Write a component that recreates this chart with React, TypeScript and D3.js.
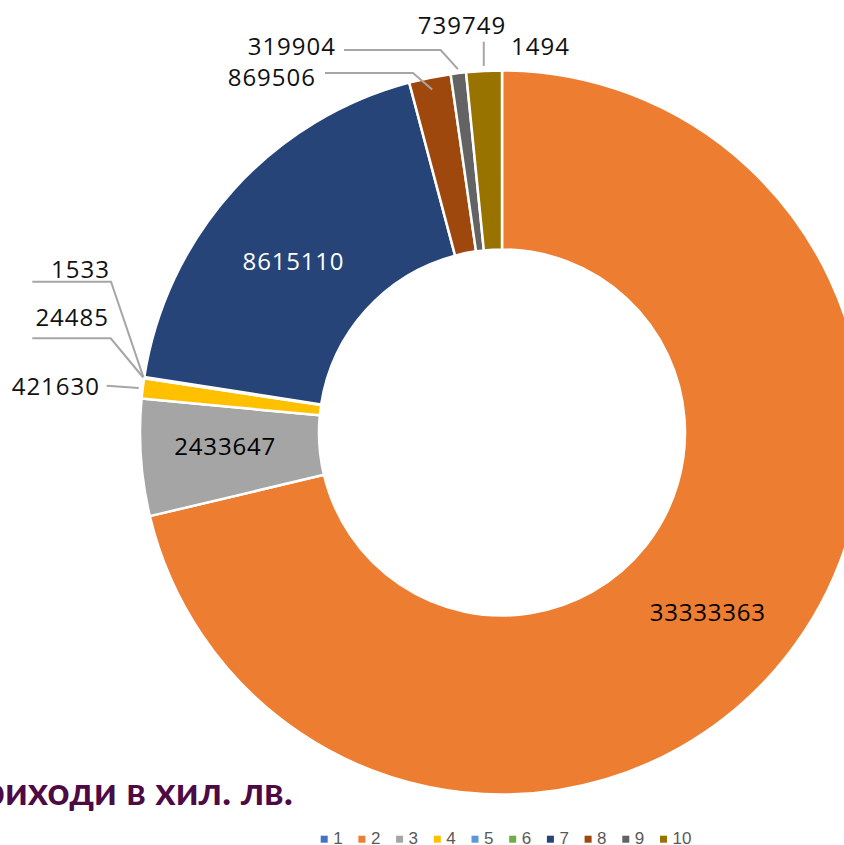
import React from "react";
import * as d3 from "d3";

const categories = ["1", "2", "3", "4", "5", "6", "7", "8", "9", "10"];
const values = [1494, 33333363, 2433647, 421630, 24485, 1533, 8615110, 869506, 319904, 739749];
const colors = ["#4472C4", "#ED7D31", "#A5A5A5", "#FFC000", "#5B9BD5", "#70AD47", "#264478", "#9E480E", "#636363", "#997300"];
const titleText = "Приходи в хил. лв.";

// inside labels: index -> text color
const insideLabels = [
  { i: 1, color: "#000000", dx: -8, dy: 10 },
  { i: 2, color: "#000000", dx: -5, dy: -6 },
  { i: 6, color: "#ffffff", dx: -6, dy: 10 },
];

// outside labels layout
type OutLabel = { i: number; tx: number; ty: number; anchor: string; line?: number[][]; tipR?: number; vertical?: number };
const outsideLabels: OutLabel[] = [
  { i: 0, tx: 511, ty: 45, anchor: "start" },
  { i: 9, tx: 462, ty: 24, anchor: "middle", vertical: 41.7, tipR: 367 },
  { i: 8, tx: 336, ty: 45, anchor: "end", line: [[344, 50], [440.7, 50]], tipR: 366 },
  { i: 7, tx: 316, ty: 76, anchor: "end", line: [[325, 73], [413, 73]], tipR: 350 },
  { i: 5, tx: 110, ty: 268, anchor: "end", line: [[32.3, 281.7], [111, 281.7]], tipR: 363 },
  { i: 4, tx: 109, ty: 316, anchor: "end", line: [[32.3, 338.3], [110.7, 338.3]], tipR: 363 },
  { i: 3, tx: 100, ty: 385, anchor: "end", line: [[106.7, 385.7]], tipR: 366 },
];

export default function App() {
  const W = 844, H = 845;
  const cx = 502, cy = 432.5;
  const outerR = 362, innerR = 183;
  const pie = d3.pie<number>().sort(null).value((d) => d).startAngle(0).endAngle(2 * Math.PI);
  const arcs = pie(values);
  const arc = d3.arc<d3.PieArcDatum<number>>().innerRadius(innerR).outerRadius(outerR);
  const pt = (a: d3.PieArcDatum<number>, r: number) => {
    const m = (a.startAngle + a.endAngle) / 2;
    return [cx + r * Math.sin(m), cy - r * Math.cos(m)];
  };
  const labelFont = "'Open Sans', sans-serif";
  const legendX = d3.scaleLinear().domain([0, 9]).range([320.7, 660]);

  return (
    <svg width={W} height={H} style={{ position: "absolute", left: 0, top: 0, background: "#fff" }}>
      <g transform={`translate(${cx},${cy})`}>
        {arcs.map((a, k) => (
          <path key={k} d={arc(a) || ""} fill={colors[k]} stroke="#fff" strokeWidth={2.5} strokeLinejoin="round" />
        ))}
        {insideLabels.map((l) => {
          const c = arc.centroid(arcs[l.i]);
          return (
            <text key={l.i} x={c[0] + l.dx} y={c[1] + l.dy} textAnchor="middle" dominantBaseline="central"
              fontFamily={labelFont} fontSize={24} letterSpacing={0.8} fill={l.color}>
              {values[l.i]}
            </text>
          );
        })}
      </g>
      {outsideLabels.map((l) => {
        const a = arcs[l.i];
        let pts: number[][] | null = null;
        if (l.line && l.tipR) pts = [...l.line, pt(a, l.tipR)];
        if (l.vertical !== undefined && l.tipR) {
          const t = pt(a, l.tipR);
          pts = [[t[0], l.vertical], t];
        }
        return (
          <g key={l.i}>
            {pts && (
              <path d={d3.line()(pts as [number, number][]) || ""} fill="none" stroke="#A6A6A6" strokeWidth={2} />
            )}
            <text x={l.tx} y={l.ty} textAnchor={l.anchor} dominantBaseline="central"
              fontFamily={labelFont} fontSize={24} letterSpacing={1} fill="#111">
              {values[l.i]}
            </text>
          </g>
        );
      })}
      <text x={-46} y={805} fontFamily="Lato, sans-serif" fontWeight={700} fontSize={38} fill="#4D0A44"
        textLength={339} lengthAdjust="spacingAndGlyphs">
        {titleText}
      </text>
      {categories.map((c, k) => (
        <g key={c} transform={`translate(${legendX(k)},0)`}>
          <rect x={0} y={835.7} width={7} height={7} fill={colors[k]} />
          <text x={12.5} y={843.5} fontFamily="'Liberation Sans', Arial, sans-serif" fontSize={17} fill="#595959">{c}</text>
        </g>
      ))}
    </svg>
  );
}
